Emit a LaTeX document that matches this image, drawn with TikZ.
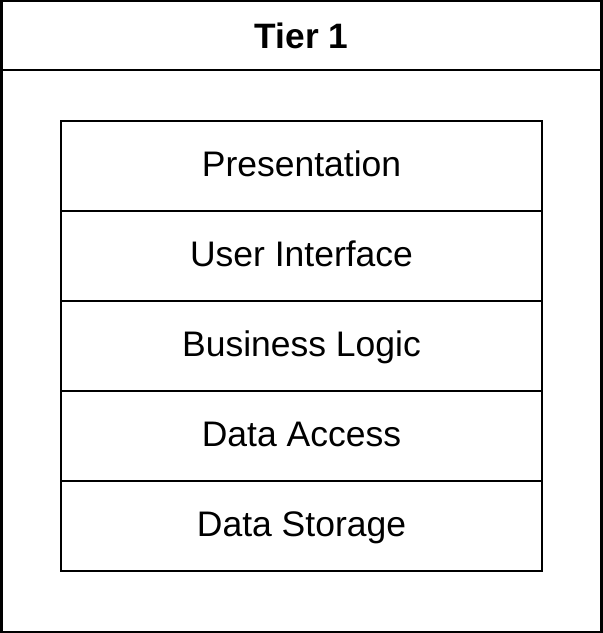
\documentclass[tikz,border=0pt]{standalone}
\usepackage{fontspec}
\setmainfont{Liberation Sans}
\usetikzlibrary{positioning}

\tikzset{
layerbox/.style={draw,line width=2.2pt,minimum width=481pt,minimum height=90pt,
  inner sep=0pt,outer sep=0pt,text height=28pt,text depth=8pt,
  font=\fontsize{35.5}{40}\selectfont},
}

\begin{document}
\begin{tikzpicture}[x=1pt,y=1pt]
\useasboundingbox (0,0) rectangle (603,-633);
\node (tier) [draw,line width=2.2pt,minimum width=600pt,minimum height=631pt,
  inner sep=0pt] at (301.5,-316.5) {};
\node (title) [anchor=base,font=\bfseries\fontsize{35.3}{40}\selectfont] at (301.5,-48) {Tier 1};
\draw[line width=2.2pt] (tier.west |- 0,-70) -- (tier.east |- 0,-70);

\node (l1) [layerbox] at (301.5,-166) {Presentation};
\node (l2) [layerbox,below=0pt of l1] {User Interface};
\node (l3) [layerbox,below=0pt of l2] {Business Logic};
\node (l4) [layerbox,below=0pt of l3] {Data Access};
\node (l5) [layerbox,below=0pt of l4] {Data Storage};

\end{tikzpicture}
\end{document}
